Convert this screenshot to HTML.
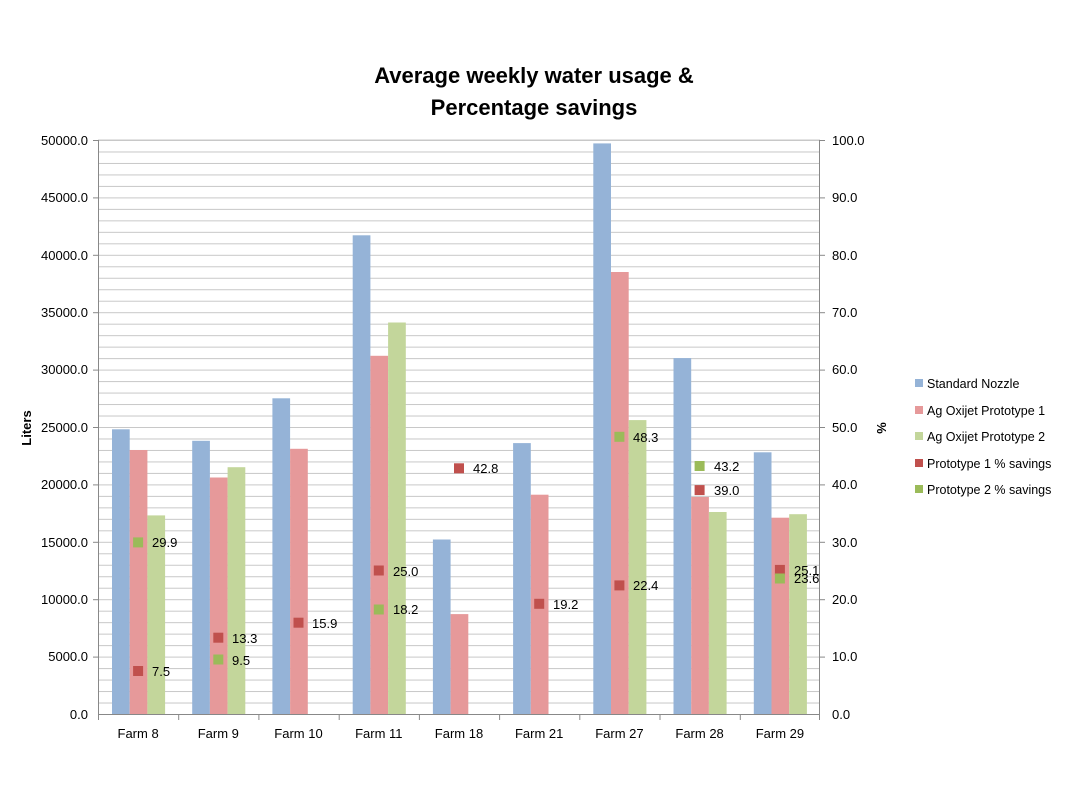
<!DOCTYPE html>
<html><head><meta charset="utf-8"><style>body{margin:0;background:#fff}svg{display:block}text{font-family:"Liberation Sans","DejaVu Sans",sans-serif;fill:#000}</style></head><body>
<svg width="1067" height="799" viewBox="0 0 1067 799" xmlns="http://www.w3.org/2000/svg">
<defs><pattern id="g" x="0" y="140" width="722" height="11.48" patternUnits="userSpaceOnUse"><line x1="0" y1="0.5" x2="722" y2="0.5" stroke="#c8c8c8" stroke-width="1"/></pattern></defs>
<text x="534" y="83" font-size="22" font-weight="bold" text-anchor="middle">Average weekly water usage &amp;</text>
<text x="534" y="115" font-size="22" font-weight="bold" text-anchor="middle">Percentage savings</text>
<rect x="98" y="140" width="722" height="574" fill="url(#g)"/>
<line x1="98" y1="140" x2="820" y2="140" stroke="#c8c8c8"/>
<g font-size="13" text-anchor="end">
<text x="88" y="145">50000.0</text><text x="88" y="202">45000.0</text><text x="88" y="260">40000.0</text><text x="88" y="317">35000.0</text><text x="88" y="374">30000.0</text><text x="88" y="432">25000.0</text><text x="88" y="489">20000.0</text><text x="88" y="547">15000.0</text><text x="88" y="604">10000.0</text><text x="88" y="661">5000.0</text><text x="88" y="719">0.0</text>
</g>
<g font-size="13">
<text x="832" y="145">100.0</text><text x="832" y="202">90.0</text><text x="832" y="260">80.0</text><text x="832" y="317">70.0</text><text x="832" y="374">60.0</text><text x="832" y="432">50.0</text><text x="832" y="489">40.0</text><text x="832" y="547">30.0</text><text x="832" y="604">20.0</text><text x="832" y="661">10.0</text><text x="832" y="719">0.0</text>
</g>
<text transform="translate(31,428) rotate(-90)" font-size="13" font-weight="bold" text-anchor="middle">Liters</text>
<text transform="translate(877,428) rotate(90)" font-size="13" font-weight="bold" text-anchor="middle">%</text>
<g fill="#95b3d7">
<rect x="112" y="429.3" width="17.7" height="284.7"/><rect x="192.2" y="440.8" width="17.7" height="273.2"/><rect x="272.4" y="398.3" width="17.7" height="315.7"/><rect x="352.7" y="235.3" width="17.7" height="478.7"/><rect x="432.9" y="539.5" width="17.7" height="174.5"/><rect x="513.1" y="443.1" width="17.7" height="270.9"/><rect x="593.3" y="143.4" width="17.7" height="570.6"/><rect x="673.5" y="358.1" width="17.7" height="355.9"/><rect x="753.8" y="452.3" width="17.7" height="261.7"/>
</g>
<g fill="#e6999a">
<rect x="129.7" y="450" width="17.7" height="264"/><rect x="209.9" y="477.5" width="17.7" height="236.5"/><rect x="290.1" y="448.8" width="17.7" height="265.2"/><rect x="370.4" y="355.8" width="17.7" height="358.2"/><rect x="450.6" y="614.1" width="17.7" height="99.9"/><rect x="530.8" y="494.7" width="17.7" height="219.3"/><rect x="611" y="272" width="17.7" height="442"/><rect x="691.2" y="497" width="17.7" height="217"/><rect x="771.5" y="517.7" width="17.7" height="196.3"/>
</g>
<g fill="#c3d69b">
<rect x="147.4" y="515.4" width="17.7" height="198.6"/><rect x="227.6" y="467.2" width="17.7" height="246.8"/><rect x="388.1" y="322.5" width="17.7" height="391.5"/><rect x="628.7" y="420.1" width="17.7" height="293.9"/><rect x="708.9" y="512" width="17.7" height="202"/><rect x="789.2" y="514.2" width="17.7" height="199.8"/>
</g>
<line x1="98.5" y1="140" x2="98.5" y2="714" stroke="#888"/>
<line x1="819.5" y1="140" x2="819.5" y2="714" stroke="#888"/>
<line x1="98" y1="714.5" x2="820" y2="714.5" stroke="#888"/>
<g stroke="#888">
<line x1="93" y1="140.5" x2="98" y2="140.5"/><line x1="93" y1="197.9" x2="98" y2="197.9"/><line x1="93" y1="255.3" x2="98" y2="255.3"/><line x1="93" y1="312.7" x2="98" y2="312.7"/><line x1="93" y1="370.1" x2="98" y2="370.1"/><line x1="93" y1="427.5" x2="98" y2="427.5"/><line x1="93" y1="484.9" x2="98" y2="484.9"/><line x1="93" y1="542.3" x2="98" y2="542.3"/><line x1="93" y1="599.7" x2="98" y2="599.7"/><line x1="93" y1="657.1" x2="98" y2="657.1"/>
<line x1="820" y1="140.5" x2="825" y2="140.5"/><line x1="820" y1="197.9" x2="825" y2="197.9"/><line x1="820" y1="255.3" x2="825" y2="255.3"/><line x1="820" y1="312.7" x2="825" y2="312.7"/><line x1="820" y1="370.1" x2="825" y2="370.1"/><line x1="820" y1="427.5" x2="825" y2="427.5"/><line x1="820" y1="484.9" x2="825" y2="484.9"/><line x1="820" y1="542.3" x2="825" y2="542.3"/><line x1="820" y1="599.7" x2="825" y2="599.7"/><line x1="820" y1="657.1" x2="825" y2="657.1"/>
<line x1="98.5" y1="714" x2="98.5" y2="720"/><line x1="178.7" y1="714" x2="178.7" y2="720"/><line x1="258.9" y1="714" x2="258.9" y2="720"/><line x1="339.2" y1="714" x2="339.2" y2="720"/><line x1="419.4" y1="714" x2="419.4" y2="720"/><line x1="499.6" y1="714" x2="499.6" y2="720"/><line x1="579.8" y1="714" x2="579.8" y2="720"/><line x1="660" y1="714" x2="660" y2="720"/><line x1="740.3" y1="714" x2="740.3" y2="720"/><line x1="819.5" y1="714" x2="819.5" y2="720"/>
</g>
<g font-size="13" text-anchor="middle">
<text x="138.1" y="738">Farm 8</text><text x="218.3" y="738">Farm 9</text><text x="298.5" y="738">Farm 10</text><text x="378.8" y="738">Farm 11</text><text x="459" y="738">Farm 18</text><text x="539.2" y="738">Farm 21</text><text x="619.4" y="738">Farm 27</text><text x="699.6" y="738">Farm 28</text><text x="779.9" y="738">Farm 29</text>
</g>
<g fill="#c0504d">
<rect x="133.1" y="666" width="10" height="10"/><rect x="213.3" y="632.7" width="10" height="10"/><rect x="293.5" y="617.7" width="10" height="10"/><rect x="373.8" y="565.5" width="10" height="10"/><rect x="454" y="463.3" width="10" height="10"/><rect x="534.2" y="598.8" width="10" height="10"/><rect x="614.4" y="580.4" width="10" height="10"/><rect x="694.6" y="485.1" width="10" height="10"/><rect x="774.9" y="564.9" width="10" height="10"/>
</g>
<g fill="#9bbb59">
<rect x="133.1" y="537.4" width="10" height="10"/><rect x="213.3" y="654.5" width="10" height="10"/><rect x="373.8" y="604.5" width="10" height="10"/><rect x="614.4" y="431.8" width="10" height="10"/><rect x="694.6" y="461" width="10" height="10"/><rect x="774.9" y="573.5" width="10" height="10"/>
</g>
<g font-size="13">
<text x="152" y="676">7.5</text><text x="232" y="643">13.3</text><text x="312" y="628">15.9</text><text x="393" y="576">25.0</text><text x="473" y="473">42.8</text><text x="553" y="609">19.2</text><text x="633" y="590">22.4</text><text x="714" y="495">39.0</text><text x="794" y="575">25.1</text>
<text x="152" y="547">29.9</text><text x="232" y="665">9.5</text><text x="393" y="614">18.2</text><text x="633" y="442">48.3</text><text x="714" y="471">43.2</text><text x="794" y="583">23.6</text>
</g>
<rect x="915" y="379" width="8" height="8" fill="#95b3d7"/><text x="927" y="388" font-size="12.5">Standard Nozzle</text>
<rect x="915" y="406" width="8" height="8" fill="#e6999a"/><text x="927" y="415" font-size="12.5">Ag Oxijet Prototype 1</text>
<rect x="915" y="432" width="8" height="8" fill="#c3d69b"/><text x="927" y="441" font-size="12.5">Ag Oxijet Prototype 2</text>
<rect x="915" y="459" width="8" height="8" fill="#c0504d"/><text x="927" y="468" font-size="12.5">Prototype 1 % savings</text>
<rect x="915" y="485" width="8" height="8" fill="#9bbb59"/><text x="927" y="494" font-size="12.5">Prototype 2 % savings</text>
</svg>
</body></html>
